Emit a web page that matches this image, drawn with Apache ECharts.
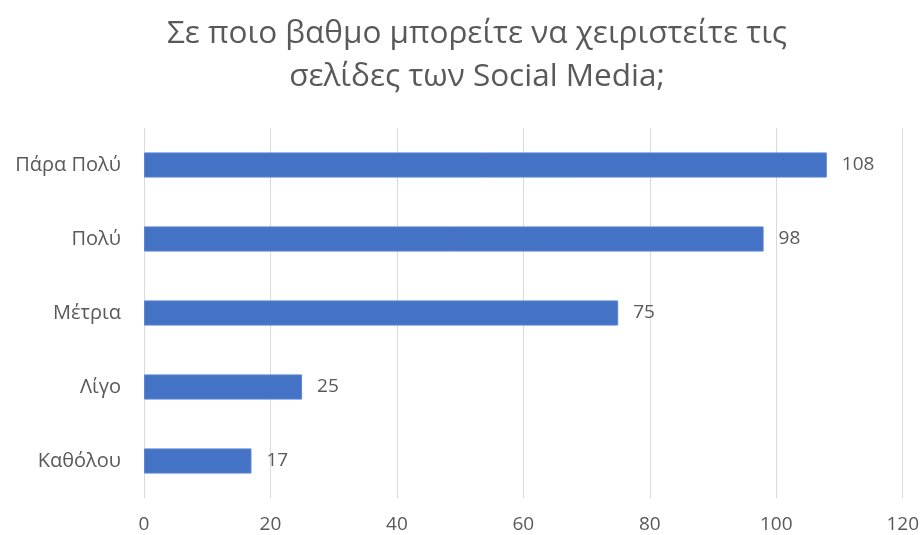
<!DOCTYPE html>
<html>
<head>
<meta charset="utf-8">
<script src="https://cdn.jsdelivr.net/npm/echarts@6/dist/echarts.min.js"></script>
<style>
  html, body { margin: 0; padding: 0; background: #fff; }
  #chart { width: 922px; height: 535px; }
</style>
</head>
<body>
<div id="chart"></div>
<script>
// Survey answers, listed bottom-to-top as the category axis draws them
const categories = ['Καθόλου', 'Λίγο', 'Μέτρια', 'Πολύ', 'Πάρα Πολύ'];
const counts = [17, 25, 75, 98, 108];
const xTicks = { min: 0, max: 120, interval: 20 };
const titleText = 'Σε ποιο βαθμο μπορείτε να χειριστείτε τις\nσελίδες των Social Media;';

const FONT = '"Open Sans", "Noto Sans", sans-serif';
const TEXT = '#595959';

const chart = echarts.init(document.getElementById('chart'), null, { renderer: 'canvas' });
chart.setOption({
  animation: false,
  backgroundColor: '#ffffff',
  title: {
    text: titleText,
    left: 472,
    textAlign: 'center',
    top: 8,
    textStyle: {
      fontFamily: FONT,
      fontSize: 31.5,
      fontWeight: 'normal',
      color: TEXT,
      lineHeight: 43
    }
  },
  grid: { left: 144, right: 19, top: 128, bottom: 37, containLabel: false },
  xAxis: {
    type: 'value',
    min: xTicks.min,
    max: xTicks.max,
    interval: xTicks.interval,
    axisLine: { show: false },
    axisTick: { show: false },
    splitLine: { show: true, lineStyle: { color: '#d9d9d9', width: 1 } },
    axisLabel: { color: TEXT, fontFamily: FONT, fontSize: 19, margin: 17 }
  },
  yAxis: {
    type: 'category',
    data: categories,
    axisLine: { show: false },
    axisTick: { show: false },
    axisLabel: { color: TEXT, fontFamily: FONT, fontSize: 20, margin: 23 }
  },
  series: [{
    type: 'bar',
    data: counts,
    barWidth: '34%',
    itemStyle: { color: '#4472C4', borderColor: '#5b86d4', borderWidth: 1 },
    label: {
      show: true,
      position: 'right',
      distance: 15,
      color: TEXT,
      fontFamily: FONT,
      fontSize: 19
    }
  }]
});
</script>
</body>
</html>
